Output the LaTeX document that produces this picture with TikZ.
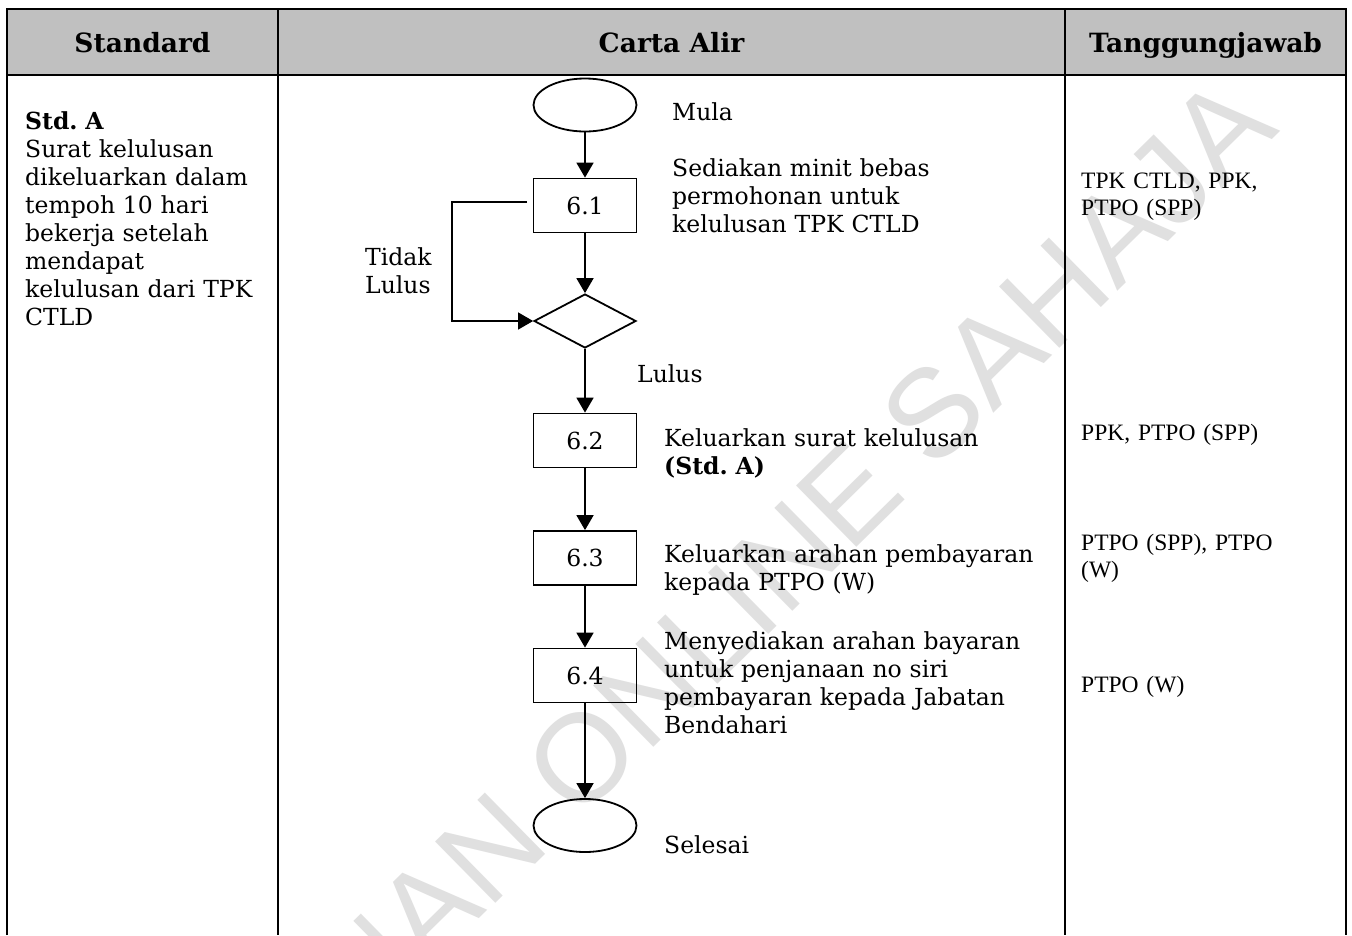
\documentclass[tikz,border=0pt]{standalone}
\usepackage{fontspec}
\setmainfont{DejaVu Serif}
\newfontfamily\timesfont{Liberation Serif}
\newfontfamily\wmfont{Liberation Sans}
\usetikzlibrary{shapes.geometric,arrows.meta}
\definecolor{hdrgray}{HTML}{C0C0C0}
\definecolor{wmgray}{HTML}{E0E0E0}
\frenchspacing
\tikzset{
  tbl/.style={line width=2.6pt},
  hdr/.style={font=\fontsize{26.5}{30}\selectfont\bfseries, inner sep=0pt, anchor=base},
  body/.style={font=\fontsize{23.5}{28}\selectfont, inner sep=0pt, anchor=base west, align=left, text width=420pt},
  resp/.style={font=\timesfont\fontsize{23.5}{27.5}\selectfont, inner sep=0pt, anchor=base west, align=left, text width=270pt},
  term/.style={ellipse, draw, line width=1.8pt, minimum width=103pt, minimum height=53pt, inner sep=0pt},
  proc/.style={rectangle, draw, line width=1.8pt, minimum width=103pt, minimum height=54pt, inner sep=0pt, font=\fontsize{23.5}{28}\selectfont},
  decis/.style={diamond, draw, line width=1.8pt, minimum width=102pt, minimum height=54pt, inner sep=0pt},
  flow/.style={line width=1.8pt, -{Triangle[width=17pt,length=15pt]}},
  backline/.style={line width=1.3pt, -{Triangle[width=17pt,length=15pt]}},
  wm/.style={font=\wmfont\fontsize{125}{125}\selectfont, text=wmgray, rotate=44.5, anchor=base east, inner sep=0pt}
}
\begin{document}
\begin{tikzpicture}[x=1pt,y=-1pt]
\useasboundingbox (0,0) rectangle (1352,935);
\fill[white] (0,0) rectangle (1352,935);
% watermark
\node[wm] (wmark) at (1281,131) {SALINAN ONLINE SAHAJA};
% table
\fill[hdrgray] (7,9) rectangle (1346,75);
\draw[tbl] (7,935) -- (7,9) -- (1346,9) -- (1346,935);
\draw[tbl] (7,75) -- (1346,75);
\draw[tbl] (278,9) -- (278,935);
\draw[tbl] (1065,9) -- (1065,935);
% headers
\node[hdr] (hstd) at (142.5,52) {Standard};
\node[hdr] (hca) at (671.5,52) {Carta Alir};
\node[hdr] (htj) at (1205.5,52) {Tanggungjawab};
% standard column
\node[body] (std) at (25,129) {\textbf{Std. A}\\Surat kelulusan\\dikeluarkan dalam\\tempoh 10 hari\\bekerja setelah\\mendapat\\kelulusan dari TPK\\CTLD};
% flowchart
\node[term] (mula) at (585,105) {};
\node[proc] (p61) at (585,205.5) {6.1};
\node[decis] (dec) at (585,321) {};
\node[proc] (p62) at (585,440.5) {6.2};
\node[proc] (p63) at (585,558) {6.3};
\node[proc] (p64) at (585,675.5) {6.4};
\node[term] (sel) at (585,825.5) {};
\draw[flow] (mula.south) -- (p61.north);
\draw[flow] (p61.south) -- (dec.north);
\draw[flow] (dec.south) -- (p62.north);
\draw[flow] (p62.south) -- (p63.north);
\draw[flow] (p63.south) -- (p64.north);
\draw[flow] (p64.south) -- (sel.north);
\coordinate (lp) at (527,202);
\draw[backline] (lp) -- ++(-75,0) |- (dec.west);
% flow labels
\node[body] (lmula) at (672,120) {Mula};
\node[body] (l61) at (672,176) {Sediakan minit bebas\\permohonan untuk\\kelulusan TPK CTLD};
\node[body] (ltidak) at (365,265) {Tidak\\Lulus};
\node[body] (llulus) at (637,382) {Lulus};
\node[body] (l62) at (664,446) {Keluarkan surat kelulusan\\\textbf{(Std. A)}};
\node[body] (l63) at (664,562) {Keluarkan arahan pembayaran\\kepada PTPO (W)};
\node[body] (l64) at (664,649) {Menyediakan arahan bayaran\\untuk penjanaan no siri\\pembayaran kepada Jabatan\\Bendahari};
\node[body] (lsel) at (664,853) {Selesai};
% responsibility column
\node[resp] (r61) at (1081,188) {TPK CTLD, PPK,\\PTPO (SPP)};
\node[resp] (r62) at (1081,440) {PPK, PTPO (SPP)};
\node[resp] (r63) at (1081,550) {PTPO (SPP), PTPO\\(W)};
\node[resp] (r64) at (1081,692) {PTPO (W)};
\end{tikzpicture}
\end{document}
